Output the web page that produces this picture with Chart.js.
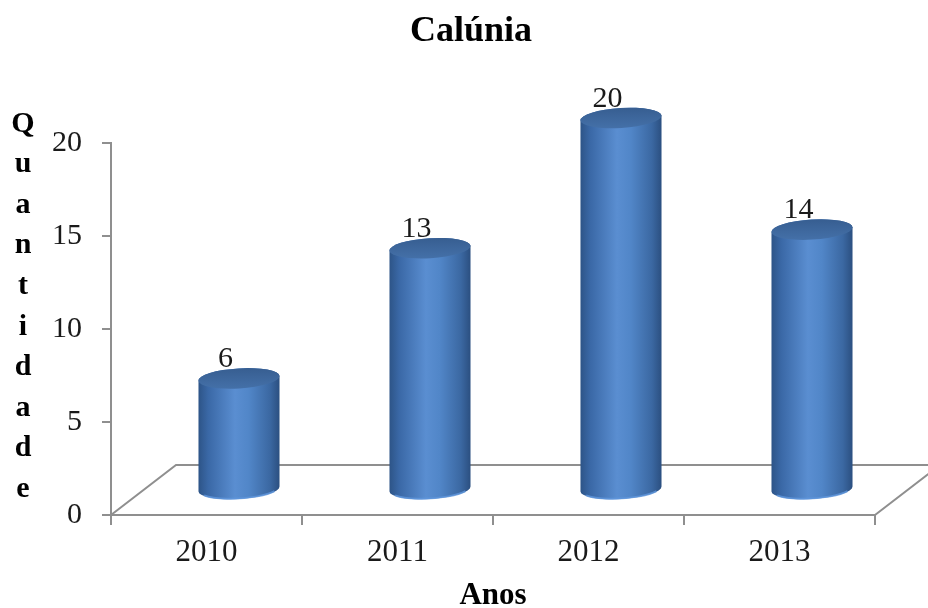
<!DOCTYPE html>
<html>
<head>
<meta charset="utf-8">
<title>Calúnia</title>
<script src="https://cdn.jsdelivr.net/npm/chart.js@4.4.1/dist/chart.umd.min.js"></script>
<style>
  html, body { margin: 0; padding: 0; background: #ffffff; }
  #wrap { width: 928px; height: 608px; }
</style>
</head>
<body>
<div id="wrap"><canvas id="chart" width="928" height="608"></canvas></div>
<script>
// Chart text
const chartTitle = 'Calúnia';
const xAxisTitle = 'Anos';
const yAxisTitle = 'Quantidade';

// Data
const years = ['2010', '2011', '2012', '2013'];
const quantities = [6, 13, 20, 14];
const yTicks = [0, 5, 10, 15, 20];

// Styling
const SERIF = '"Liberation Serif", "Times New Roman", serif';
const TEXT = '#1a1a1a';
const AXIS = '#8f8f8f';
const DEPTH_X = 65;   // oblique depth of the floor plane
const DEPTH_Y = -50;

// Floor plane of the 3D box, drawn behind the cylinders
const floorPlugin = {
  id: 'floor3d',
  beforeDatasetsDraw(chart) {
    const { ctx, chartArea: a } = chart;
    ctx.save();
    ctx.strokeStyle = AXIS;
    ctx.lineWidth = 2;
    ctx.beginPath();
    ctx.moveTo(a.left, a.bottom);
    ctx.lineTo(a.left + DEPTH_X, a.bottom + DEPTH_Y);
    ctx.lineTo(a.right + DEPTH_X, a.bottom + DEPTH_Y);
    ctx.lineTo(a.right, a.bottom);
    ctx.stroke();
    ctx.restore();
  }
};

// Each bar element is rendered as a shaded cylinder standing mid-depth on the floor
const cylinderPlugin = {
  id: 'cylinders',
  afterDatasetsDraw(chart) {
    const { ctx } = chart;
    const meta = chart.getDatasetMeta(0);
    const values = chart.data.datasets[0].data;
    const rot = -0.06;
    meta.data.forEach((bar, i) => {
      const { x, y, base, width } = bar.getProps(['x', 'y', 'base', 'width'], true);
      const cx = x + DEPTH_X / 2;
      const top = y + DEPTH_Y / 2;
      const bottom = base + DEPTH_Y / 2;
      const rx = width / 2;
      const ry = 10;

      ctx.save();
      // body
      const g = ctx.createLinearGradient(cx - rx, 0, cx + rx, 0);
      g.addColorStop(0, '#2d5487');
      g.addColorStop(0.12, '#3a68a6');
      g.addColorStop(0.45, '#5a8ed1');
      g.addColorStop(0.62, '#5186c8');
      g.addColorStop(0.88, '#3b68a2');
      g.addColorStop(1, '#2b4f80');
      ctx.beginPath();
      ctx.ellipse(cx, bottom, rx, ry, rot, Math.PI, 0, true);
      ctx.ellipse(cx, top, rx, ry, rot, 0, Math.PI, true);
      ctx.closePath();
      ctx.fillStyle = g;
      ctx.fill();

      // lighter rim along the bottom edge
      ctx.beginPath();
      ctx.ellipse(cx, bottom, rx - 1, ry - 0.5, rot, Math.PI * 0.85, Math.PI * 0.15, true);
      ctx.strokeStyle = 'rgba(95,150,220,0.8)';
      ctx.lineWidth = 2;
      ctx.stroke();

      // top cap
      const tg = ctx.createLinearGradient(0, top - ry, 0, top + ry);
      tg.addColorStop(0, '#375e91');
      tg.addColorStop(1, '#4470a8');
      ctx.beginPath();
      ctx.ellipse(cx, top, rx, ry, rot, 0, Math.PI * 2);
      ctx.fillStyle = tg;
      ctx.fill();

      // value label
      ctx.fillStyle = TEXT;
      ctx.font = '30px ' + SERIF;
      ctx.textAlign = 'center';
      ctx.textBaseline = 'middle';
      ctx.fillText(String(values[i]), cx - 13.5, top - 19);
      ctx.restore();
    });
  }
};

// Chart title and the stacked vertical axis title
const textPlugin = {
  id: 'titles',
  afterDraw(chart) {
    const { ctx } = chart;
    ctx.save();
    ctx.fillStyle = '#000000';
    ctx.textAlign = 'center';
    ctx.textBaseline = 'middle';
    ctx.font = 'bold 36px ' + SERIF;
    ctx.fillText(chartTitle, 471, 32);

    ctx.textBaseline = 'alphabetic';
    ctx.font = 'bold 30px ' + SERIF;
    yAxisTitle.split('').forEach((ch, i) => {
      ctx.fillText(ch, 23, 131.5 + i * 40.6);
    });
    ctx.restore();
  }
};

new Chart(document.getElementById('chart'), {
  type: 'bar',
  data: {
    labels: years,
    datasets: [{
      data: quantities,
      backgroundColor: 'rgba(0,0,0,0)',
      borderWidth: 0,
      barPercentage: 0.85,
      categoryPercentage: 0.5
    }]
  },
  options: {
    responsive: false,
    animation: false,
    devicePixelRatio: 1,
    layout: { padding: { top: 143, right: 53, bottom: 0, left: 0 } },
    plugins: {
      legend: { display: false },
      tooltip: { enabled: false },
      title: { display: false }
    },
    scales: {
      x: {
        offset: true,
        grid: { offset: true, drawOnChartArea: false, drawTicks: true, tickLength: 10, color: AXIS, lineWidth: 2 },
        border: { display: true, color: AXIS, width: 2 },
        ticks: { color: TEXT, font: { family: SERIF, size: 31 }, padding: 9, maxRotation: 0 },
        title: {
          display: true, text: xAxisTitle, color: '#000000',
          font: { family: SERIF, size: 31, weight: 'bold', lineHeight: 0.7 },
          padding: { top: 0, bottom: 1 }
        },
        afterFit(scale) { scale.height = 93; }
      },
      y: {
        min: yTicks[0],
        max: yTicks[yTicks.length - 1],
        afterBuildTicks(scale) { scale.ticks = yTicks.map(v => ({ value: v })); },
        grid: { drawOnChartArea: false, drawTicks: true, tickLength: 9, color: AXIS, lineWidth: 2 },
        border: { display: true, color: AXIS, width: 2 },
        ticks: { color: TEXT, font: { family: SERIF, size: 30 }, padding: 20 },
        afterFit(scale) { scale.width = 111; }
      }
    }
  },
  plugins: [floorPlugin, cylinderPlugin, textPlugin]
});
</script>
</body>
</html>
